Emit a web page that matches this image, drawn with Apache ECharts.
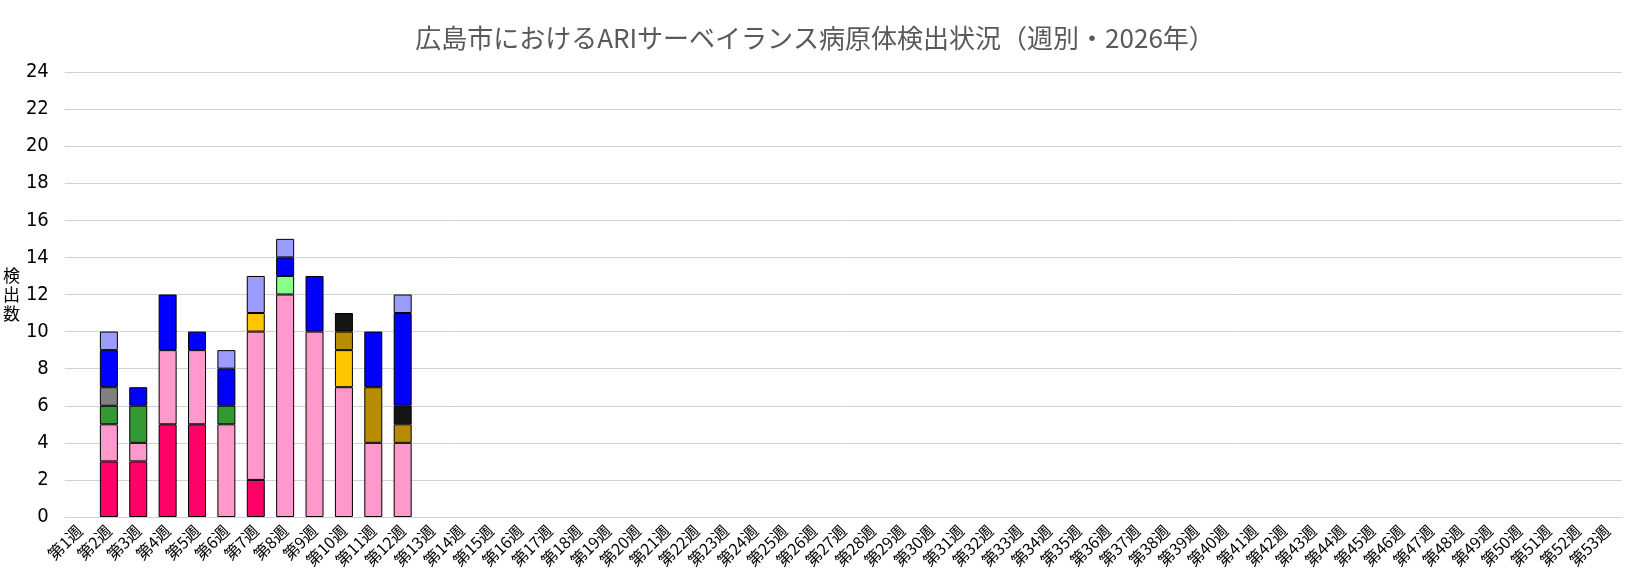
<!DOCTYPE html>
<html>
<head>
<meta charset="utf-8">
<script src="https://cdn.jsdelivr.net/npm/echarts@6/dist/echarts.min.js"></script>
<style>
  html, body { margin: 0; padding: 0; background: #fff; }
  #chart { width: 1630px; height: 585px; }
</style>
</head>
<body>
<div id="chart"></div>
<script>
var weeks = [
    '第1週', '第2週', '第3週', '第4週', '第5週', '第6週', '第7週', '第8週', '第9週', '第10週',
    '第11週', '第12週', '第13週', '第14週', '第15週', '第16週', '第17週', '第18週', '第19週', '第20週',
    '第21週', '第22週', '第23週', '第24週', '第25週', '第26週', '第27週', '第28週', '第29週', '第30週',
    '第31週', '第32週', '第33週', '第34週', '第35週', '第36週', '第37週', '第38週', '第39週', '第40週',
    '第41週', '第42週', '第43週', '第44週', '第45週', '第46週', '第47週', '第48週', '第49週', '第50週',
    '第51週', '第52週', '第53週'
];

// weekly detections, weeks 1..12 (stack order bottom -> top)
var red        = ['-', 3, 3, 5, 5, '-', 2, '-', '-', '-', '-', '-'];
var pink       = ['-', 2, 1, 4, 4, 5, 8, 12, 10, 7, 4, 4];
var green      = ['-', 1, 2, '-', '-', 1, '-', '-', '-', '-', '-', '-'];
var gray       = ['-', 1, '-', '-', '-', '-', '-', '-', '-', '-', '-', '-'];
var lightGreen = ['-', '-', '-', '-', '-', '-', '-', 1, '-', '-', '-', '-'];
var gold       = ['-', '-', '-', '-', '-', '-', 1, '-', '-', 2, '-', '-'];
var darkGold   = ['-', '-', '-', '-', '-', '-', '-', '-', '-', 1, 3, 1];
var black      = ['-', '-', '-', '-', '-', '-', '-', '-', '-', 1, '-', 1];
var blue       = ['-', 2, 1, 3, 1, 2, '-', 1, 3, '-', 3, 5];
var lavender   = ['-', 1, '-', '-', '-', 1, 2, 1, '-', '-', '-', 1];

var yTicks = [0, 24, 2];

(function () {
    var myChart = echarts.init(document.getElementById('chart'));
    var font = '"Noto Sans CJK JP", sans-serif';
    var narrow = '"Liberation Sans Narrow", "DejaVu Sans Condensed", sans-serif';

    var layers = [
        ['red', red, '#FF0066'],
        ['pink', pink, '#FF99CC'],
        ['green', green, '#339933'],
        ['gray', gray, '#808080'],
        ['lightGreen', lightGreen, '#88FF88'],
        ['gold', gold, '#FFC600'],
        ['darkGold', darkGold, '#B88C00'],
        ['black', black, '#151515'],
        ['blue', blue, '#0000FF'],
        ['lavender', lavender, '#9C9CFF']
    ];

    var series = layers.map(function (l) {
        return {
            name: l[0],
            type: 'bar',
            stack: 'total',
            barWidth: 18,
            data: l[1],
            itemStyle: { color: l[2], borderColor: '#000', borderWidth: 1 }
        };
    });

    var option = {
        animation: false,
        title: {
            text: '広島市におけるARIサーベイランス病原体検出状況（週別・2026年）',
            left: 'center',
            top: 20,
            textStyle: { fontFamily: font, fontSize: 26, fontWeight: 'normal', color: '#595959' }
        },
        grid: { left: 61, right: 8, top: 72, bottom: 68, containLabel: false },
        xAxis: {
            type: 'category',
            data: weeks,
            axisTick: { show: false },
            axisLine: { lineStyle: { color: '#CCD3CC' } },
            axisLabel: { rotate: 45, interval: 0, fontFamily: font, fontSize: 16, color: '#000', margin: 11 }
        },
        yAxis: {
            type: 'value',
            min: yTicks[0],
            max: yTicks[1],
            interval: yTicks[2],
            name: '検\n出\n数',
            nameLocation: 'middle',
            nameGap: 42,
            nameRotate: 0,
            nameTextStyle: { fontFamily: font, fontSize: 17, color: '#000', lineHeight: 19 },
            axisLine: { show: false },
            axisTick: { show: false },
            splitLine: { lineStyle: { color: '#CCD3CC' } },
            axisLabel: { fontFamily: narrow, fontSize: 20, color: '#000', margin: 16 }
        },
        series: series
    };

    myChart.setOption(option);
    window.addEventListener('resize', function () {
        myChart.resize();
    });
})();
</script>
</body>
</html>
